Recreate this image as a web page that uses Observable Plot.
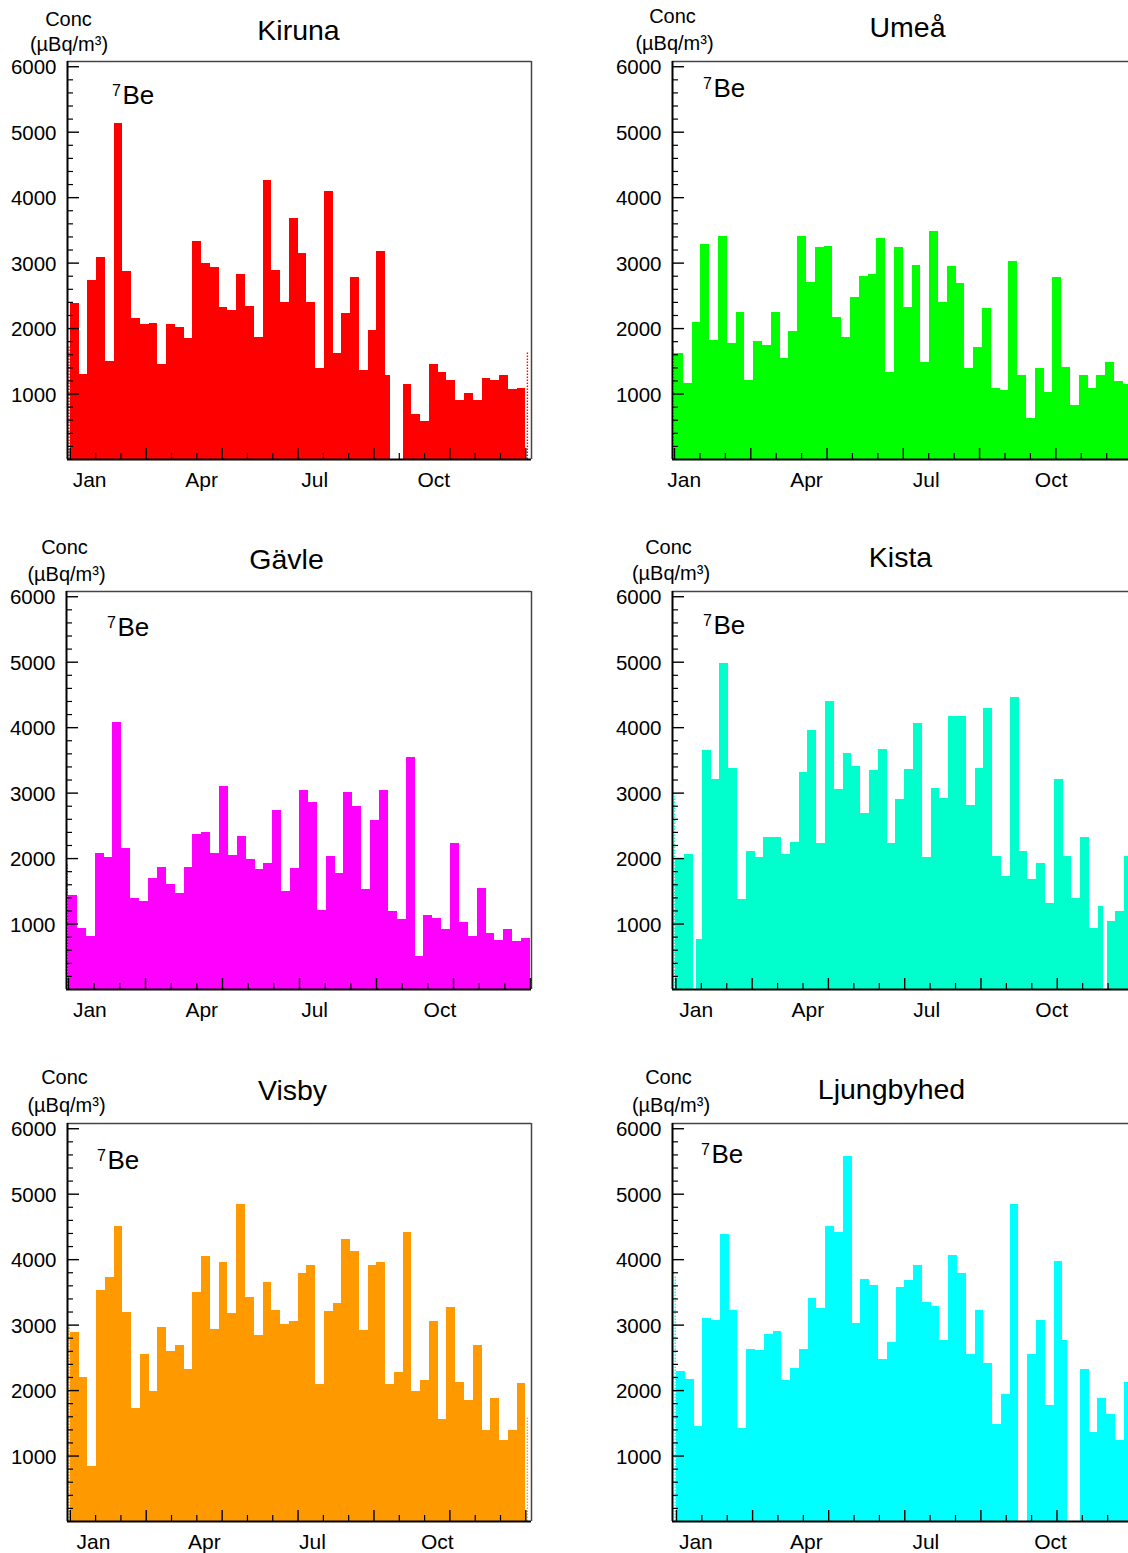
<!DOCTYPE html>
<html>
<head>
<meta charset="utf-8">
<script src="https://cdn.jsdelivr.net/npm/d3@7"></script>
<script src="https://cdn.jsdelivr.net/npm/@observablehq/plot@0.6"></script>
<style>
  html, body { margin: 0; padding: 0; background: #fff; }
  #root { position: relative; width: 1128px; height: 1553px; overflow: hidden; background: #fff; }
  .panel { position: absolute; }
  .panel svg { max-width: none !important; }
</style>
</head>
<body>
<div id="root"></div>
<script>
// ---------------- DATA ----------------
// Weekly 7Be concentrations (µBq/m³), week bins 0..51; null = no sample
const monthLabels = ["Jan", "Apr", "Jul", "Oct"];
const yTickLabels = [1000, 2000, 3000, 4000, 5000, 6000];

const kirunaValues = [2390,1305,2735,3092,1500,5134,2878,2148,2061,2077,
  1449,2061,2010,1842,3337,2995,2929,2316,2276,2827,
  2342,1857,4256,2893,2393,3679,3145,2393,1383,4088,
  1617,2225,2776,1357,1975,3175,1281,null,1153,693,
  581,1449,1332,1204,898,1015,898,1230,1204,1281,
  1067,1092];
const umeaValues = [1612,1157,2096,3286,1817,3403,1766,2251,1208,1806,
  1740,2251,1546,1960,3403,2710,3235,3260,2174,1858,
  2470,2802,2827,3378,1331,3235,2327,2970,1475,3480,
  2393,2944,2684,1383,1714,2301,1081,1056,3022,1280,
  631,1383,1025,2776,1398,821,1280,1092,1280,1475,
  1184,1143];
const gavleValues = [1434,927,810,2080,2009,4086,2156,1384,1343,1699,
  1866,1602,1460,1866,2374,2400,2070,3095,2044,2334,
  1993,1826,1928,2740,1496,1841,3039,2851,1211,2027,
  1768,3017,2798,1521,2587,3039,1185,1064,3551,504,
  1135,1084,922,2227,1023,805,1546,856,754,922,
  733,779];
const kistaValues = [2005,2061,761,3645,3213,4975,3381,1371,2112,2010,
  2325,2325,2061,2249,3315,3959,2234,4396,3051,3604,
  3406,2690,3340,3670,2234,2900,3355,4061,2020,3071,
  2924,4178,4178,2807,3381,4294,2036,1731,4467,2112,
  1675,1919,1320,3213,2036,1386,2325,929,1269,1046,
  1193,2036];
const visbyValues = [2881,2201,847,3536,3735,4507,3198,1721,2549,1986,
  2958,2590,2692,2329,3494,4047,2932,3955,3178,4849,
  3418,2840,3658,3224,3009,3050,3786,3904,2088,3204,
  3327,4313,4124,2917,3904,3955,2088,2277,4415,1986,
  2155,3052,1552,3273,2130,1844,2693,1383,1884,1235,
  1383,2104];
const ljungbyhedValues = [2292,2174,1458,3095,3074,4379,3223,1422,2634,2614,
  2854,2905,2153,2343,2634,3407,3248,4506,4414,5575,
  3023,3698,3606,2471,2737,3581,3683,3918,3340,3289,
  2762,4066,3785,2547,3223,2419,1483,1934,4849,null,
  2547,3074,1770,3969,2762,null,2317,1355,1882,1627,
  1233,2123];

// partial samples at the year boundaries (drawn dotted): [start, end]
const kirunaEdge = [1730, 1627];
const umeaEdge = [1704, null];
const gavleEdge = [1927, null];
const kistaEdge = [2944, null];
const visbyEdge = [2984, 1577];
const ljungbyhedEdge = [3749, null];

// sampling gaps inside weeks [from, to] (week units)
const kirunaGaps = [[36.5, 38]];
const kistaGaps = [[2.0, 2.3], [48.6, 49.0]];
const ljungbyhedGaps = [[44.57, 46]];

// month label positions (week units)
const kirunaMonthPos = [2.2, 15.0, 27.9, 41.5];
const umeaMonthPos = [1.1, 15.0, 28.6, 42.8];
const gavleMonthPos = [2.4, 15.0, 27.7, 41.8];
const kistaMonthPos = [2.3, 15.0, 28.5, 42.7];
const visbyMonthPos = [2.65, 15.3, 27.65, 41.9];
const ljungbyhedMonthPos = [2.2, 14.8, 28.4, 42.6];

// ---------------- LAYOUT ----------------
const ML = 72, MT = 61, MB = 45, MR = 10, FRAME_H = 398;
const YMAX = 6080;
const panels = [
  {name: "Kiruna", values: kirunaValues, edge: kirunaEdge, gaps: kirunaGaps, months: kirunaMonthPos, color: "#ff0000",
   left: 67, top: 61, edge0: 69.8, ppw: 8.76, frameW: 464, titleDx: 231, titleDy: -31,
   concDx: 1, concDy: -42, unitDx: 1.5, unitDy: -16.5, beDx: 55, beDy: 34},
  {name: "Umeå", values: umeaValues, edge: umeaEdge, gaps: [], months: umeaMonthPos, color: "#00ff00",
   left: 672, top: 61, edge0: 674, ppw: 8.8, frameW: 464, titleDx: 235, titleDy: -34,
   concDx: 0, concDy: -45, unitDx: 2, unitDy: -17.5, beDx: 41, beDy: 27},
  {name: "Gävle", values: gavleValues, edge: gavleEdge, gaps: [], months: gavleMonthPos, color: "#ff00ff",
   left: 66, top: 591, edge0: 68, ppw: 8.885, frameW: 465, titleDx: 220, titleDy: -32,
   concDx: -2, concDy: -44, unitDx: 0, unitDy: -17, beDx: 51, beDy: 36},
  {name: "Kista", values: kistaValues, edge: kistaEdge, gaps: kistaGaps, months: kistaMonthPos, color: "#00ffcc",
   left: 672, top: 591, edge0: 675.4, ppw: 8.8, frameW: 464, titleDx: 228, titleDy: -34,
   concDx: -4, concDy: -44, unitDx: -1.5, unitDy: -17.5, beDx: 41, beDy: 34},
  {name: "Visby", values: visbyValues, edge: visbyEdge, gaps: [], months: visbyMonthPos, color: "#ff9900",
   left: 67, top: 1123, edge0: 69.8, ppw: 8.76, frameW: 464, titleDx: 225, titleDy: -33,
   concDx: -3, concDy: -45.5, unitDx: -1, unitDy: -17.5, beDx: 40, beDy: 37},
  {name: "Ljungbyhed", values: ljungbyhedValues, edge: ljungbyhedEdge, gaps: ljungbyhedGaps, months: ljungbyhedMonthPos, color: "#00ffff",
   left: 672, top: 1123, edge0: 676, ppw: 8.78, frameW: 464, titleDx: 219, titleDy: -34,
   concDx: -4, concDy: -45.5, unitDx: -1.5, unitDy: -17.5, beDx: 39, beDy: 31}
];

const yMajorTicks = yTickLabels;
const yMinorTicks = d3.range(200, 6000, 200).filter(v => v % 1000 !== 0);
const xMajorTicks = d3.range(0, 7).map(k => k * 52 / 6);
const xMinorTicks = d3.range(0, 19).filter(k => k % 3 !== 0).map(k => k * 52 / 18);

function barsOf(values, gaps) {
  const out = [];
  values.forEach((v, i) => {
    if (v == null) return;
    let a = i, b = i + 1;
    for (const [g1, g2] of gaps) {
      if (g1 <= a && g2 > a) a = g2;
      else if (g1 < b && g2 >= b) b = g1;
    }
    out.push({x1: a, x2: b, v});
  });
  return out;
}

const FONT = "'Liberation Sans', Arial, Helvetica, sans-serif";

function makePanel(p) {
  const xs = (p.left - p.edge0) / p.ppw;
  const xe = xs + p.frameW / p.ppw;
  const bars = barsOf(p.values, p.gaps);
  const leftEdge = p.edge[0] != null ? [p.edge[0]] : [];
  const rightEdge = p.edge[1] != null ? [p.edge[1]] : [];
  const label = (txt, dx, dy, size, anchor = "middle") =>
    Plot.text([txt], {frameAnchor: "top-left", dx, dy, text: d => d, fontSize: size,
                      textAnchor: anchor, lineAnchor: "middle"});
  const svg = Plot.plot({
    width: ML + p.frameW + MR,
    height: MT + FRAME_H + MB,
    marginLeft: ML, marginTop: MT, marginBottom: MB, marginRight: MR,
    x: {domain: [xs, xe], axis: null},
    y: {domain: [0, YMAX], axis: null},
    style: {fontFamily: FONT, background: "transparent", color: "#000", overflow: "visible", maxWidth: "none"},
    marks: [
      Plot.rect(bars, {x1: "x1", x2: "x2", y1: 0, y2: "v", fill: p.color, shapeRendering: "crispEdges"}),
      Plot.ruleX(leftEdge, {x: 0, y1: 0, y2: d => d, dx: -1.3, stroke: p.color, strokeWidth: 1.4, strokeDasharray: "1.5,1.5"}),
      Plot.ruleX(rightEdge, {x: 52, y1: 0, y2: d => d, dx: 1.6, stroke: p.color, strokeWidth: 1.4, strokeDasharray: "1.5,1.5"}),
      // frame
      Plot.ruleY([YMAX], {stroke: "#444", strokeWidth: 1.5}),
      Plot.ruleX([xe], {stroke: "#444", strokeWidth: 1.5}),
      Plot.ruleX([xs], {stroke: "#000", strokeWidth: 2}),
      Plot.ruleY([0], {stroke: "#000", strokeWidth: 2}),
      // inward ticks
      Plot.tickY(yMajorTicks, {y: d => d, insetRight: p.frameW - 12, stroke: "#000", strokeWidth: 1.4}),
      Plot.tickY(yMinorTicks, {y: d => d, insetRight: p.frameW - 6, stroke: "#000", strokeWidth: 1.2}),
      Plot.tickX(xMajorTicks, {x: d => d, insetTop: FRAME_H - 11, stroke: "#000", strokeWidth: 1.4}),
      Plot.tickX(xMinorTicks, {x: d => d, insetTop: FRAME_H - 6, stroke: "#000", strokeWidth: 1.2}),
      // tick labels
      Plot.text(yTickLabels, {y: d => d, frameAnchor: "left", dx: -11, dy: 1, textAnchor: "end", lineAnchor: "middle",
                              text: d => String(d), fontSize: 20.5}),
      Plot.text(monthLabels, {x: (d, i) => p.months[i], frameAnchor: "bottom", dy: 21, textAnchor: "middle",
                              lineAnchor: "middle", text: d => d, fontSize: 21}),
      // titles
      label(p.name, p.titleDx, p.titleDy, 28.5),
      label("Conc", p.concDx, p.concDy, 20),
      label("(µBq/m³)", p.unitDx, p.unitDy, 20),
      label("Be", p.beDx, p.beDy, 26, "start"),
      label("7", p.beDx - 1.5, p.beDy - 4.5, 16, "end")
    ]
  });
  svg.style.maxWidth = "none";
  return svg;
}

const root = document.getElementById("root");
for (const p of panels) {
  const div = document.createElement("div");
  div.className = "panel";
  div.style.left = (p.left - ML) + "px";
  div.style.top = (p.top - MT) + "px";
  div.style.width = (ML + p.frameW + MR) + "px";
  div.appendChild(makePanel(p));
  root.appendChild(div);
}
</script>
</body>
</html>
